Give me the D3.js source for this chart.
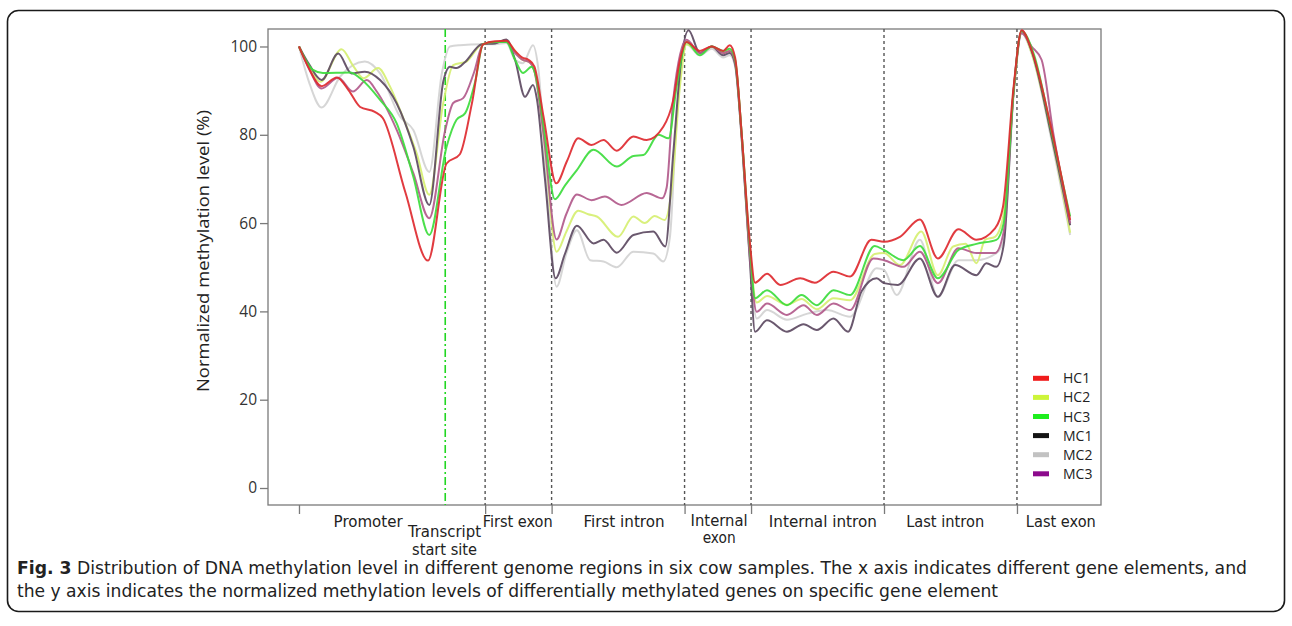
<!DOCTYPE html>
<html><head><meta charset="utf-8">
<script src="https://cdn.jsdelivr.net/npm/d3@7/dist/d3.min.js"></script>
<style>
html,body{margin:0;padding:0;background:#fff;}
svg{display:block;}
</style></head>
<body>
<svg id="chart" width="1292" height="626"></svg>
<script>
// ---------- DATA (x in bins along the gene model, y in %) ----------
const seriesNames = ["HC1","HC2","HC3","MC1","MC2","MC3"];
const yTicks = [0,20,40,60,80,100];
const regionBoundaries = [28,38,58,68,88,108];
const axisTicks = [0,28,38,58,68,88,108];
const tssPosition = 22;
const regionLabels = [
  {text:["Promoter"], at:10.4},
  {text:["Transcript","start site"], at:21.9},
  {text:["First exon"], at:32.9},
  {text:["First intron"], at:48.9},
  {text:["Internal","exon"], at:63.2},
  {text:["Internal intron"], at:78.8},
  {text:["Last intron"], at:97.2},
  {text:["Last exon"], at:114.6}
];

const HC1 = [[0,100],[1.5,95],[3.4,91],[5.7,93],[7.5,90],[9.2,86.3],[11.4,85.2],[12.6,83.8],[16,67],[19.4,51.5],[22.2,73.5],[24.2,75.6],[26,87],[27.7,100.5],[29.5,101.2],[31.2,101.3],[32.5,99],[33.6,97.5],[34.5,97],[35.4,95.5],[36.8,84],[38.7,69],[40.3,74],[42,79.2],[44,77.7],[45.8,78.8],[47.8,76.4],[50.3,79.6],[52.3,78.8],[54.8,81.8],[56.3,87.9],[57.3,96.9],[58.3,101],[60.3,99],[62.1,100],[63.8,99],[64.8,100.3],[65.6,97.5],[66.6,80],[67.8,56],[68.6,46.5],[70.4,48.5],[72.4,46],[75.4,47.5],[77.6,46.5],[80.4,49],[82.9,47.9],[86.1,56.2],[88,55.8],[90.4,56.9],[93.4,60.8],[96.1,52],[99.2,58.6],[101.9,56.2],[104.7,58.8],[105.9,63.7],[107.5,90.9],[108.7,103.7],[110.2,99.2],[113.3,80.5],[116,60.7]];
const HC2 = [[0,100],[1.5,95.5],[3.2,92],[6.4,99.4],[8.2,95.5],[9.7,92.8],[11.9,95.1],[13.7,90.9],[15.6,84.1],[17.7,75.8],[19.6,66.4],[21.7,87.2],[23.2,95.8],[25.2,96.6],[27.5,100.5],[29.5,101],[31.2,101.2],[32.5,99],[33.6,97],[34.6,96.5],[35.4,94.5],[36.8,80],[38.75,53.5],[40.2,58],[42,62.8],[43.5,62],[44.8,61.5],[48,56.9],[50.3,61.5],[52,60],[53.5,61.6],[55,60.7],[56.1,68.2],[57.3,90.9],[58.3,100.5],[60.3,98.5],[62.1,100],[63.8,98.5],[64.8,99],[65.6,97],[66.6,80],[67.8,54],[68.85,42],[70.4,43.5],[73.4,41.5],[75.6,42.8],[77.9,40.5],[80.4,43],[82.9,42.5],[86.6,53],[88,53.2],[90.4,50.5],[93.6,58.1],[96.1,48.2],[98.4,54.7],[100.3,55.3],[101.9,50.9],[103.2,56.2],[104.7,56.9],[106,62],[107.5,90],[108.7,103.5],[110.2,98.5],[113.3,79],[116,57.8]];
const HC3 = [[0,100],[2.1,94.7],[3.6,94],[7.7,94.1],[9.2,92.8],[12.2,87.9],[14.7,82.6],[17.2,70.5],[19.6,57.3],[22.2,77.3],[23.7,83.4],[25,84.9],[26.5,92],[27.7,100.5],[29.5,101],[31.2,101],[32.5,97],[33.7,94],[35,95.4],[35.6,93.5],[36.8,82],[38.5,65.4],[40,68.5],[41.8,72],[44.3,76.6],[47.8,72.8],[50.3,75.2],[51.8,75.4],[54.1,80],[55.6,79.2],[56.8,90.9],[58.3,101],[60.3,98],[62.1,100],[63.8,99],[64.8,99.5],[65.6,97],[66.6,80],[67.8,55],[68.6,43],[70.4,44.8],[73.4,41.4],[75.6,43.7],[77.9,41.4],[80.4,44.8],[82.9,43.7],[86.6,54.8],[88,53.9],[90.9,51.6],[93.4,54.8],[96.1,47.5],[99.2,53.9],[101.9,55.3],[104.9,56.2],[106,60],[107.5,90],[108.7,103.5],[110.5,98.4],[113.3,80],[116,61.5]];
const MC1 = [[0,100],[1.5,96],[3.4,92.4],[5.9,98.4],[7.9,93.9],[9.9,94.3],[12.2,92.4],[14.7,87.1],[17.2,77.3],[19.6,64.1],[21.7,92],[22.7,95.4],[23.7,95.1],[25,96.5],[27.5,100.5],[29.5,100.7],[31.2,101.6],[32.5,97],[34,88.6],[35.2,91.3],[35.8,88],[37,70],[38.6,47.5],[40,53],[41.8,59.4],[44.3,55.4],[45.8,56.2],[47.8,53.3],[50.3,57.3],[53.3,58.1],[55.1,54.7],[56.3,75.8],[57.5,97],[58.6,103.7],[60.3,98.5],[62.1,100],[63.8,98],[64.8,98.5],[65.6,96],[66.6,79],[67.8,52],[68.6,35.4],[70.4,38],[73.4,35.4],[75.9,37.1],[77.9,35.8],[80.4,38.4],[82.6,35.4],[84.6,44.5],[86.9,47.5],[88,46.4],[90.1,46],[93.4,52],[96.1,43.3],[98.7,50.5],[101.9,48.2],[103.4,50.9],[104.9,50.1],[106,55],[107.5,90],[108.7,103.5],[110.2,99],[113.3,79],[116,59.5]];
const MC2 = [[0,100],[1.5,92],[3.4,86.2],[6.2,93.2],[9.9,96.6],[12.2,93.9],[15.2,84.1],[17.2,81.1],[19.6,71.6],[21.5,94],[22.7,100],[24.2,100.3],[27.5,100.5],[29.5,100.5],[31.2,100.8],[32.5,97],[33.7,96.2],[35.2,100.3],[36,95],[37.3,68.2],[38.75,45.6],[40.2,53],[41.8,58.4],[43.8,51.6],[45.8,51.3],[47.8,50],[50.3,53.5],[53.3,53.1],[54.8,51.3],[55.8,56.9],[56.8,83.4],[58.3,100.5],[60.3,98],[62.1,99.5],[63.8,97.5],[64.8,98],[65.6,95.5],[66.6,79],[67.8,52],[68.85,38.4],[70.4,40.3],[73.4,38.1],[76.5,39.5],[79.4,40.3],[82.9,38.8],[86.9,49.8],[88,49.4],[89.9,43.7],[93.4,56.2],[96.1,43.3],[99.2,51.6],[101.9,51.6],[104.9,53.2],[106,56],[107.5,89],[108.7,103],[110.2,98.5],[113.3,78],[116,57.3]];
const MC3 = [[0,100],[1.5,95],[3.4,90.5],[5.9,92.9],[8.1,89.8],[10.2,92.4],[11.7,89.8],[14.7,81.1],[17.2,71.3],[19.6,61.1],[22,81.1],[23.2,87.2],[24.7,88.3],[26.3,94],[27.7,100.5],[29.5,101],[31.2,101],[32.5,98.5],[33.6,97],[34.6,96.5],[35.4,94.5],[36.8,80],[38.75,56.3],[40.2,62],[41.8,66.5],[44,65.2],[46,66],[48.5,64.1],[52.3,66.8],[54.6,65.6],[55.3,68],[56.3,88],[58.3,101.5],[60.3,98.5],[62.1,100],[63.8,98.5],[64.8,99],[65.6,96.5],[66.6,80],[67.8,53],[68.85,39.9],[70.4,41.8],[73.4,39.2],[75.9,41.4],[77.9,39.2],[80.4,41.8],[82.9,40.3],[86.4,52],[88,51.6],[90.9,50.1],[93.4,53.5],[96.1,46.4],[99.2,54.3],[101.9,53.2],[104.7,53.2],[106,58],[107.5,90],[108.7,103],[110.2,100],[111.7,97],[113.5,80],[116,60]];

const captionBold = "Fig. 3";
const captionLine1 = " Distribution of DNA methylation level in different genome regions in six cow samples. The x axis indicates different gene elements, and";
const captionLine2 = "the y axis indicates the normalized methylation levels of differentially methylated genes on specific gene element";
const yTitle = "Normalized methylation level (%)";

// ---------- STYLE / LAYOUT ----------
const seriesData = {HC1, HC2, HC3, MC1, MC2, MC3};
const lineColor = {HC1:"#de2a30", HC2:"#d6ef72", HC3:"#3ddc3d", MC1:"#5d4a62", MC2:"#d2d2d2", MC3:"#b25a8b"};
const legendColor = {HC1:"#f01c1c", HC2:"#cdf53a", HC3:"#1eee1e", MC1:"#141414", MC2:"#c2c2c2", MC3:"#8c0a8c"};
const drawOrder = ["MC2","HC2","MC1","MC3","HC3","HC1"];
const narrowFont = "'Liberation Sans Narrow', 'DejaVu Sans Condensed', 'Liberation Sans', sans-serif";

const svg = d3.select("#chart");
const P = {left:268, right:1101, top:29, bottom:505};

const x = d3.scaleLinear().domain([-4.66, 120.64]).range([P.left, P.right]);
const y = d3.scaleLinear().domain([-3.85, 103.96]).range([P.bottom, P.top]);

// outer rounded frame
svg.append("rect").attr("x",7.5).attr("y",10.5).attr("width",1277).attr("height",601)
  .attr("rx",11).attr("fill","none").attr("stroke","#1a1a1a").attr("stroke-width",1.6);

// plot box
svg.append("rect").attr("x",P.left).attr("y",P.top).attr("width",P.right-P.left).attr("height",P.bottom-P.top)
  .attr("fill","#fff").attr("stroke","#7a7a7a").attr("stroke-width",1.3);

// region dividers
svg.append("g").selectAll("line").data(regionBoundaries).join("line")
  .attr("x1",d=>x(d)).attr("x2",d=>x(d)).attr("y1",P.top).attr("y2",P.bottom)
  .attr("stroke","#555").attr("stroke-width",1.4).attr("stroke-dasharray","3,3");

// TSS line
svg.append("line").attr("x1",x(tssPosition)).attr("x2",x(tssPosition)).attr("y1",P.top).attr("y2",P.bottom)
  .attr("stroke","#22d622").attr("stroke-width",1.6).attr("stroke-dasharray","8,3,2,3");

// lines
const line = d3.line().x(d=>x(d[0])).y(d=>y(d[1])).curve(d3.curveMonotoneX);
svg.append("g").selectAll("path").data(drawOrder).join("path")
  .attr("d",k=>line(seriesData[k]))
  .attr("fill","none").attr("stroke",k=>lineColor[k]).attr("stroke-width",2)
  .attr("stroke-opacity",0.92).attr("stroke-linejoin","round");

// Y axis
const yAxis = d3.axisLeft(y).tickValues(yTicks).tickSize(8).tickPadding(3);
const gy = svg.append("g").attr("transform",`translate(${P.left},0)`).call(yAxis);
gy.select(".domain").remove();
gy.selectAll(".tick line").attr("stroke","#7a7a7a").attr("stroke-width",1.3);
gy.selectAll(".tick text").attr("font-family","'Open Sans', sans-serif").attr("font-size",15.5).attr("fill","#333");

// X axis ticks
const xAxis = d3.axisBottom(x).tickValues(axisTicks).tickSize(9).tickFormat("");
const gx = svg.append("g").attr("transform",`translate(0,${P.bottom})`).call(xAxis);
gx.select(".domain").remove();
gx.selectAll(".tick line").attr("stroke","#7a7a7a").attr("stroke-width",1.3);

// region labels
const labelWidths = {"Promoter":69,"Transcript":73,"start site":65,"First exon":70,"First intron":81,"Internal":57,"exon":33,"Internal intron":108,"Last intron":78,"Last exon":70};
const lg = svg.append("g").attr("font-family",narrowFont).attr("font-size",15.5).attr("fill","#222");
regionLabels.forEach(r=>{
  const base = r.text[0]==="Transcript" ? 537 : (r.text.length===2 ? 525.5 : 527);
  const cx = x(r.at);
  r.text.forEach((s,i)=>{
    lg.append("text").attr("x",cx).attr("y",base+i*17.5).attr("text-anchor","middle")
      .attr("textLength",labelWidths[s]).attr("lengthAdjust","spacingAndGlyphs").text(s);
  });
});

// Y title
svg.append("text").attr("transform","translate(209,251) rotate(-90)")
  .attr("text-anchor","middle").attr("font-family","'Open Sans', sans-serif").attr("font-size",16)
  .attr("fill","#222").attr("textLength",282).attr("lengthAdjust","spacingAndGlyphs").text(yTitle);

// legend
const leg = svg.append("g");
seriesNames.forEach((k,i)=>{
  const cy = 378.3 + i*19.1;
  leg.append("rect").attr("x",1033).attr("y",cy-2.5).attr("width",16).attr("height",5).attr("fill",legendColor[k]);
  leg.append("text").attr("x",1063).attr("y",cy+5).attr("font-family","'Open Sans', sans-serif")
    .attr("font-size",14).attr("fill","#222").text(k);
});

// caption
const cap = svg.append("g").attr("font-family",narrowFont).attr("font-size",18).attr("fill","#222");
const t1 = cap.append("text").attr("x",17).attr("y",573.5).attr("textLength",1230).attr("lengthAdjust","spacingAndGlyphs");
t1.append("tspan").attr("font-weight","bold").text(captionBold);
t1.append("tspan").text(captionLine1);
cap.append("text").attr("x",17).attr("y",596.5).attr("textLength",981).attr("lengthAdjust","spacingAndGlyphs").text(captionLine2);
</script>
</body></html>
